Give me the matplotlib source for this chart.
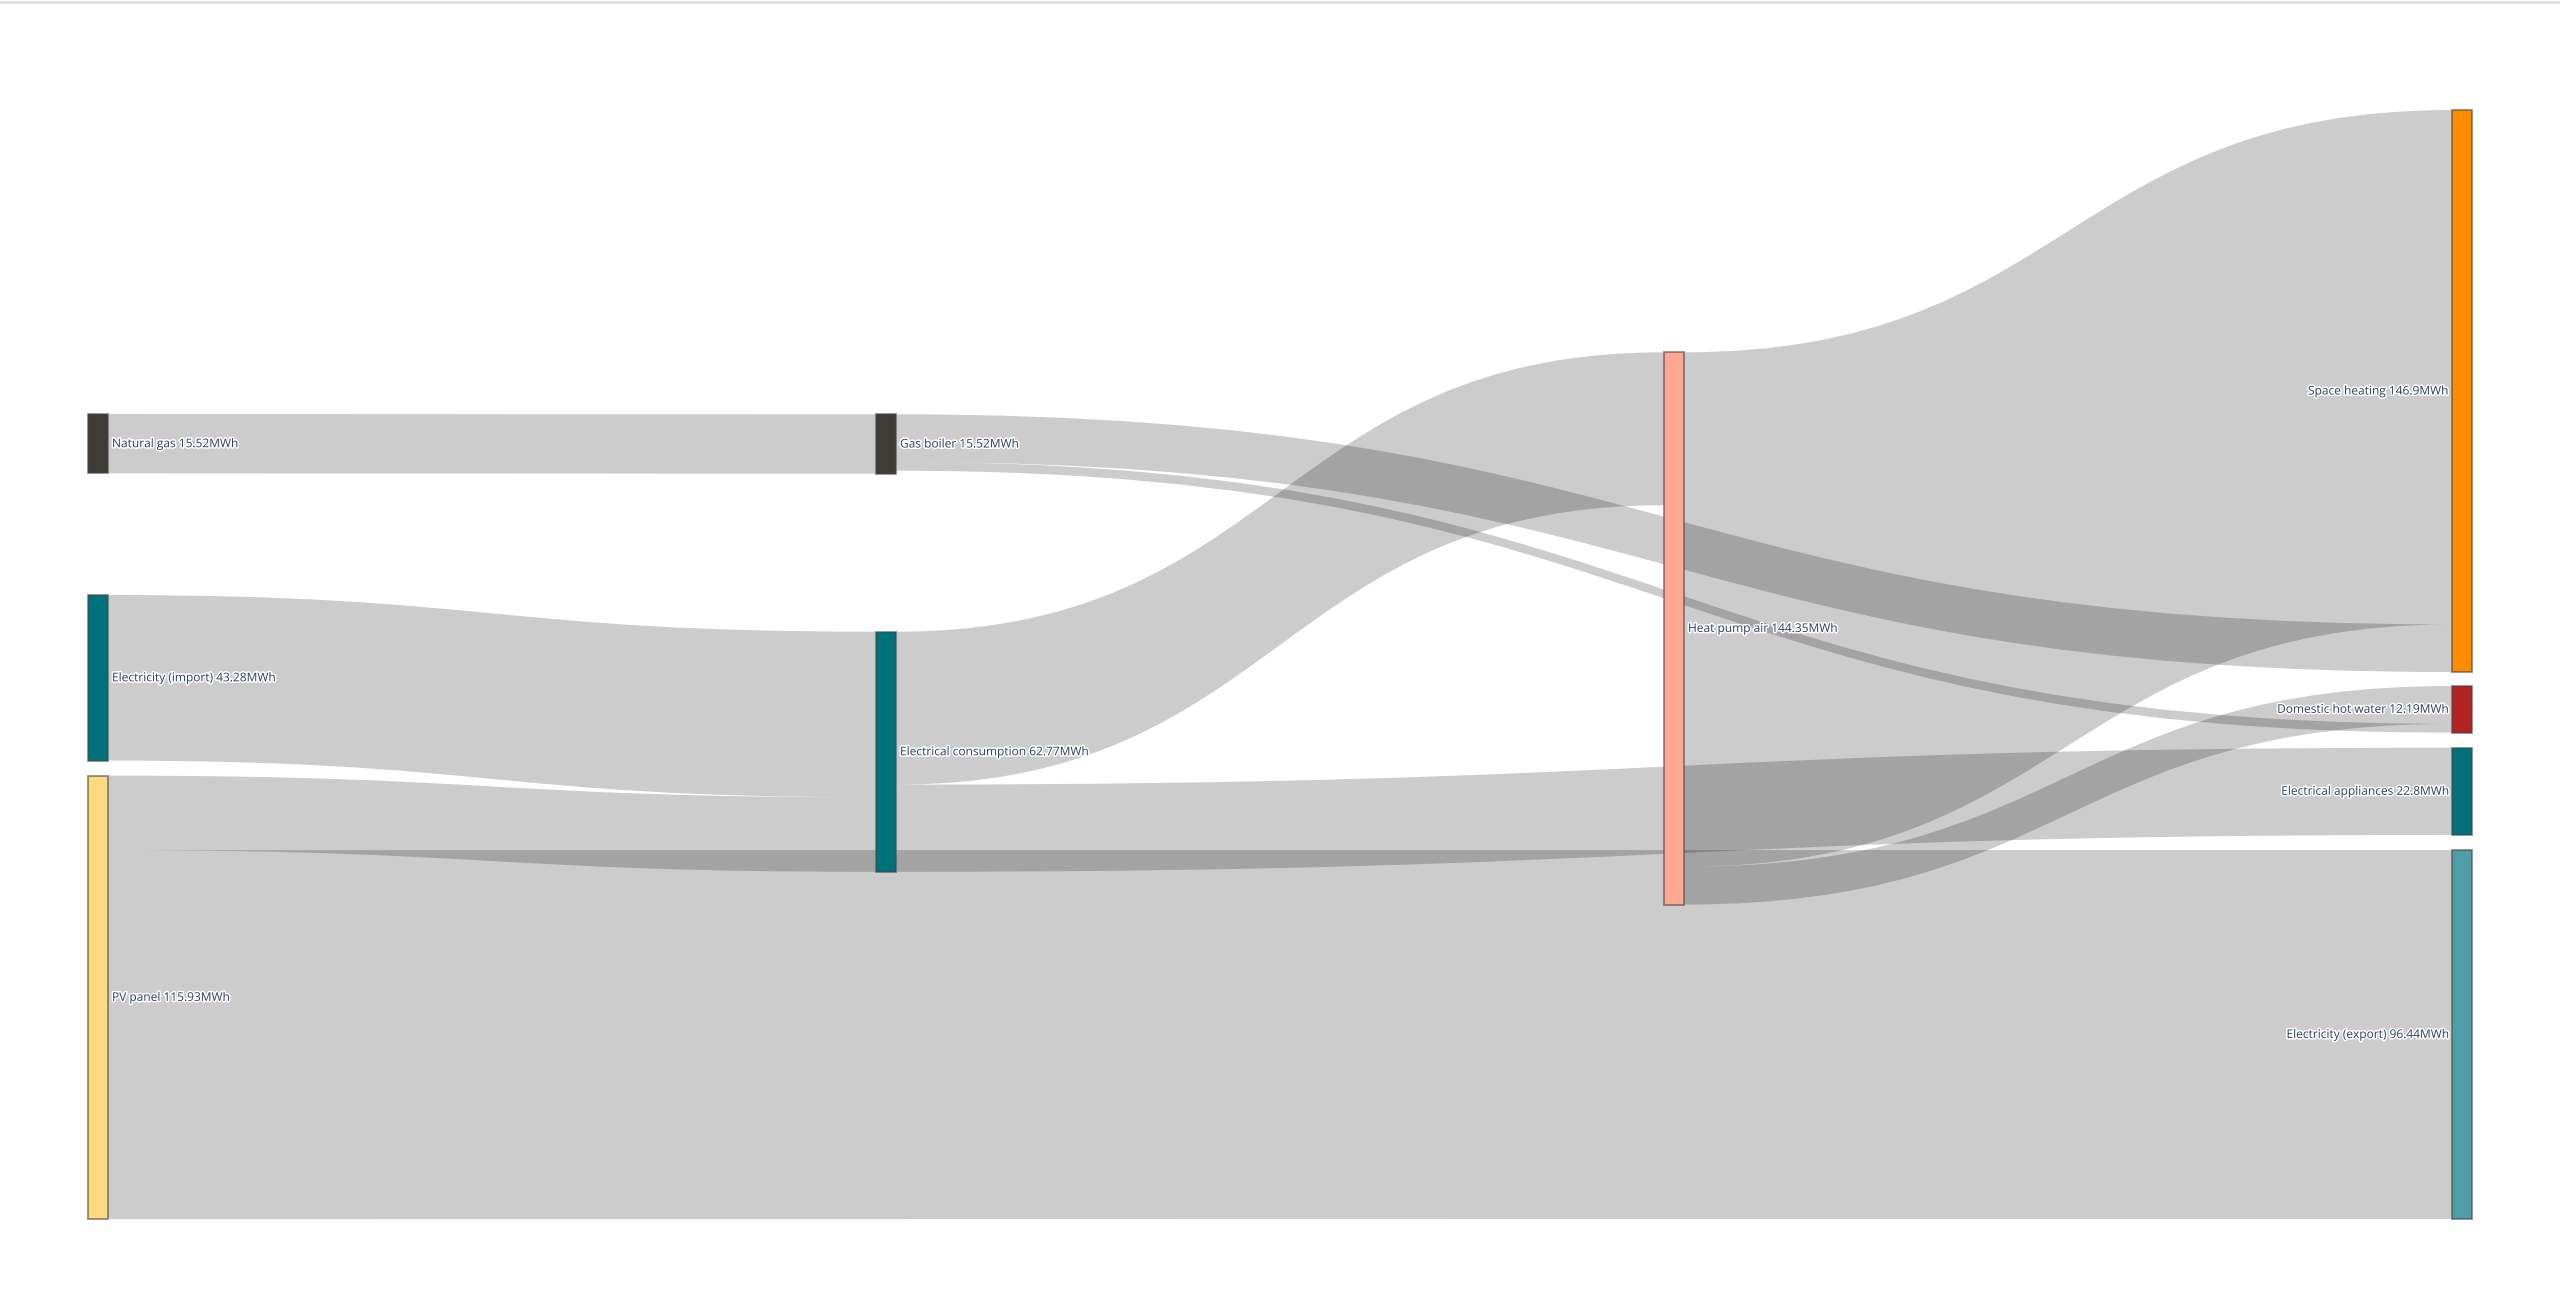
import numpy as np
import matplotlib.pyplot as plt
from matplotlib.path import Path
from matplotlib.patches import PathPatch, Rectangle
import matplotlib.patheffects as pe

# nodes: name, value (MWh), column, colour
node_names = ["Natural gas", "Electricity (import)", "PV panel",
              "Gas boiler", "Electrical consumption",
              "Heat pump air",
              "Space heating", "Domestic hot water", "Electrical appliances",
              "Electricity (export)"]
node_values = [15.52, 43.28, 115.93, 15.52, 62.77, 144.35, 146.9, 12.19, 22.8, 96.44]
node_cols = [0, 0, 0, 1, 1, 2, 3, 3, 3, 3]
node_colors = ["#3f3b37", "#00717b", "#fed980", "#3f3b37", "#00717b",
               "#fea893", "#ff8c00", "#b22222", "#00717b", "#4f9da6"]

# links: source index, target index, value (MWh)
link_src = [0, 1, 2, 2, 3, 3, 4, 4, 5, 5]
link_tgt = [3, 4, 4, 9, 6, 7, 5, 8, 6, 7]
link_val = [15.52, 43.28, 19.49, 96.44, 12.44, 2.30, 39.97, 22.8, 134.46, 9.89]

# layout (pixels in a 2560x1306 canvas)
W, H = 2560, 1306
x_left, col_step, node_w = 88, 788, 20
ky = 3.826  # px per MWh
node_tops = [414, 595, 775.6, 414.3, 631.7, 352.3, 110, 686, 747.7, 850]

fig = plt.figure(figsize=(W / 100, H / 100), dpi=100)
ax = fig.add_axes([0, 0, 1, 1])
ax.set_xlim(0, W)
ax.set_ylim(H, 0)
ax.axis("off")

# faint line on top edge
ax.axhline(1.5, color="#e2e2e2", lw=2.2)

n = len(node_names)
nx0 = [x_left + c * col_step for c in node_cols]
ny0 = node_tops
nh = [v * ky for v in node_values]
node_y = [ny0[i] + nh[i] / 2 for i in range(n)]

# stacking order of links at each node: by the top of the node at the other end
out_off = list(ny0)
in_off = list(ny0)
order_out = sorted(range(len(link_val)), key=lambda k: (link_src[k], ny0[link_tgt[k]]))
order_in = sorted(range(len(link_val)), key=lambda k: (link_tgt[k], ny0[link_src[k]]))
sy = {}
ty = {}
for k in order_out:
    s = link_src[k]
    sy[k] = (out_off[s], out_off[s] + link_val[k] * ky)
    out_off[s] += link_val[k] * ky
for k in order_in:
    t = link_tgt[k]
    ty[k] = (in_off[t], in_off[t] + link_val[k] * ky)
    in_off[t] += link_val[k] * ky

for k in range(len(link_val)):
    x0 = nx0[link_src[k]] + node_w
    x1 = nx0[link_tgt[k]]
    xm = (x0 + x1) / 2
    (s0, s1), (t0, t1) = sy[k], ty[k]
    verts = [(x0, s0), (xm, s0), (xm, t0), (x1, t0),
             (x1, t1), (xm, t1), (xm, s1), (x0, s1), (x0, s0)]
    codes = [Path.MOVETO, Path.CURVE4, Path.CURVE4, Path.CURVE4,
             Path.LINETO, Path.CURVE4, Path.CURVE4, Path.CURVE4, Path.CLOSEPOLY]
    ax.add_patch(PathPatch(Path(verts, codes), facecolor=(0, 0, 0, 0.2),
                           edgecolor="none", lw=0, zorder=1))

for i in range(n):
    ax.add_patch(Rectangle((nx0[i], ny0[i]), node_w, nh[i], facecolor=node_colors[i],
                           edgecolor=(0.27, 0.27, 0.27, 0.6), lw=1.3, zorder=3))
    label = f"{node_names[i]} {node_values[i]:g}MWh"
    if node_cols[i] == 3:
        tx, ha = nx0[i] - 4, "right"
    else:
        tx, ha = nx0[i] + node_w + 4, "left"
    ax.text(tx, node_y[i], label, ha=ha, va="center", fontsize=8.6,
            family=["Open Sans", "DejaVu Sans"], color="#2a3f5f", zorder=4,
            path_effects=[pe.withStroke(linewidth=2.2, foreground="white")])

fig.savefig("out.png", dpi=100, facecolor="white")
